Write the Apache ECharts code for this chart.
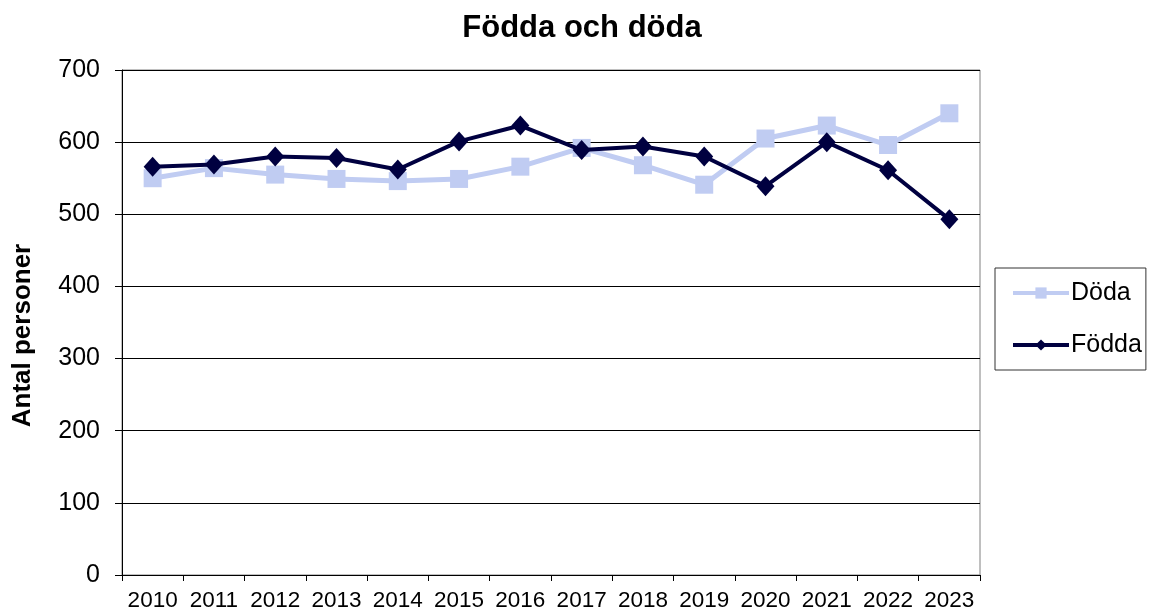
<!DOCTYPE html>
<html>
<head>
<meta charset="utf-8">
<script src="https://cdn.jsdelivr.net/npm/echarts@6/dist/echarts.min.js"></script>
<style>
  html, body { margin: 0; padding: 0; background: #fff; }
  #chart { width: 1152px; height: 611px; }
</style>
</head>
<body>
<div id="chart"></div>
<script>
const years = ["2010", "2011", "2012", "2013", "2014", "2015", "2016", "2017", "2018", "2019", "2020", "2021", "2022", "2023"];
const doda = [550, 564, 555, 549, 546, 549, 566, 592, 568, 541, 605, 623, 596, 640];
const fodda = [566, 569, 580, 578, 562, 601, 623, 589, 594, 580, 539, 600, 561, 493];

const chart = echarts.init(document.getElementById("chart"));
const font = "Liberation Sans, Arial, sans-serif";

chart.setOption({
  animation: false,
  textStyle: { fontFamily: font },
  title: {
    text: "Födda och döda",
    left: 577,
    textAlign: "center",
    top: 8,
    textStyle: { fontSize: 31, fontWeight: "bold", color: "#000", fontFamily: font },
  },
  legend: {
    orient: "vertical",
    left: 995,
    top: 268,
    padding: [10, 4, 10, 16],
    itemGap: 22,
    itemWidth: 56,
    itemHeight: 14,
    borderColor: "#333",
    borderWidth: 1,
    lineStyle: { width: 4 },
    textStyle: { fontSize: 25, lineHeight: 30, color: "#000", fontFamily: font, padding: [0, 0, 0, -3] },
    data: ["Döda", "Födda"],
  },
  grid: {
    left: 122,
    right: 172,
    top: 70,
    bottom: 36,
    containLabel: false,
    outerBoundsMode: "none",
    show: true,
    borderColor: "#808080",
    borderWidth: 1,
  },
  xAxis: {
    type: "category",
    data: years,
    boundaryGap: true,
    axisLine: { lineStyle: { color: "#000", width: 1 } },
    axisTick: { show: true, length: 6, interval: 0, lineStyle: { color: "#000" } },
    axisLabel: { fontSize: 22.5, color: "#000", margin: 14, interval: 0, fontFamily: font },
  },
  yAxis: {
    type: "value",
    min: 0,
    max: 700,
    interval: 100,
    name: "Antal personer",
    nameLocation: "middle",
    nameGap: 86,
    nameTextStyle: { fontSize: 26, fontWeight: "bold", color: "#000", fontFamily: font, padding: [0, 26, 0, 0] },
    axisLine: { show: true, lineStyle: { color: "#000", width: 1 } },
    axisTick: { show: true, length: 7, lineStyle: { color: "#000" } },
    axisLabel: { fontSize: 25, color: "#000", margin: 22, fontFamily: font },
    splitLine: { lineStyle: { color: "#000", width: 1 } },
  },
  series: [
    {
      name: "Döda",
      type: "line",
      data: doda,
      symbol: "rect",
      symbolSize: 18,
      color: "#C0CCF2",
      lineStyle: { width: 5, color: "#C0CCF2" },
      itemStyle: { color: "#C0CCF2" },
      z: 2,
    },
    {
      name: "Födda",
      type: "line",
      data: fodda,
      symbol: "diamond",
      symbolSize: [18, 20],
      color: "#000040",
      lineStyle: { width: 4, color: "#000040" },
      itemStyle: { color: "#000040" },
      z: 3,
    },
  ],
});
</script>
</body>
</html>
